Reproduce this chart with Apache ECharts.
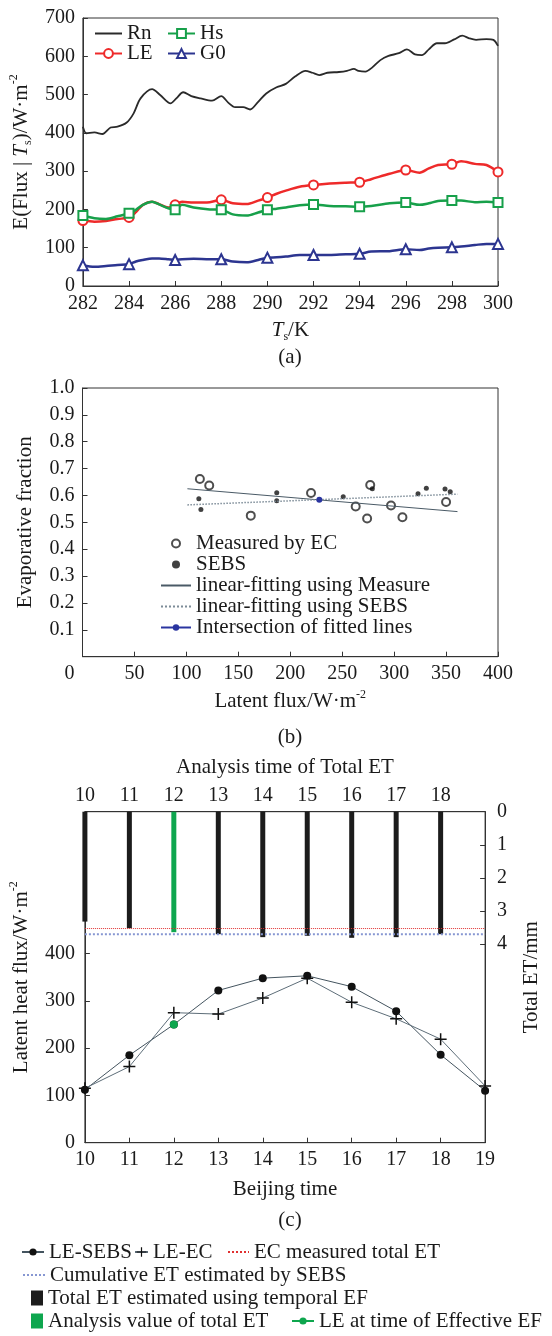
<!DOCTYPE html>
<html>
<head>
<meta charset="utf-8">
<script src="https://cdn.jsdelivr.net/npm/echarts@6/dist/echarts.min.js"></script>
<style>
  html, body { margin: 0; padding: 0; background: #fff; }
  #main { width: 552px; height: 1336px; }
</style>
</head>
<body>
<div id="main"></div>
<script>
// (a) flux vs surface temperature
var rnT = [282, 282.15, 282.5, 282.85, 283.2, 283.5, 283.9, 284.2, 284.5, 285.0, 285.35, 285.8, 286.05, 286.35, 286.7, 287.1, 287.6, 288.0, 288.3, 288.6, 288.95, 289.25, 289.6, 289.95, 290.4, 290.8, 291.2, 291.65, 291.95, 292.25, 292.6, 293.1, 293.45, 293.75, 293.95, 294.25, 294.55, 294.9, 295.25, 295.7, 296.05, 296.4, 296.7, 297.0, 297.35, 297.7, 298.1, 298.45, 298.75, 299.05, 299.5, 299.8, 300];
var rnV = [416, 399, 401, 397, 414, 416, 427, 451, 490, 514, 499, 477, 490, 506, 496, 490, 484, 496, 479, 467, 467, 461, 481, 503, 519, 528, 547, 562, 557, 551, 557, 559, 562, 567, 562, 560, 571, 590, 601, 608, 618, 605, 603, 618, 634, 634, 644, 654, 647, 643, 645, 643, 627];
var fluxT = [282, 282.5, 283, 283.5, 284, 284.3, 284.6, 285, 285.3, 285.7, 286, 286.3, 286.8, 287.5, 288, 288.5, 289.1, 289.6, 290, 290.4, 290.8, 291.4, 292, 292.7, 293.4, 294, 294.5, 295.3, 296, 296.6, 297, 297.4, 298, 298.4, 299, 299.5, 300];
var leV = [171, 168, 170, 175, 179, 193, 212, 220, 214, 205, 212, 220, 218, 219, 225, 216, 214, 223, 231, 241, 249, 259, 264, 268, 270, 271, 279, 293, 303, 296, 307, 316, 318, 326, 319, 316, 298];
var hsV = [184, 177, 175, 182, 190, 199, 212, 220, 213, 203, 199, 212, 205, 200, 199, 187, 184, 192, 199, 202, 205, 211, 213, 209, 208, 207, 209, 216, 218, 212, 216, 222, 223, 223, 219, 220, 218];
var g0V = [54, 50, 52, 55, 57, 64, 68, 72, 72, 70, 68, 70, 71, 70, 70, 64, 62, 68, 74, 75, 77, 81, 81, 81, 83, 84, 90, 91, 96, 94, 98, 100, 101, 103, 107, 110, 110];

// (b) evaporative fraction vs latent flux
var ecX = [113, 122, 162, 220, 263, 274, 277, 297, 308, 350];
var ecY = [0.661, 0.637, 0.525, 0.609, 0.559, 0.514, 0.639, 0.563, 0.519, 0.576];
var sebsX = [112, 114, 187, 187, 251, 279, 323, 331, 349, 354];
var sebsY = [0.588, 0.548, 0.610, 0.580, 0.595, 0.625, 0.606, 0.627, 0.624, 0.614];
var fitX = [101, 361];
var fitMeasY = [0.625, 0.540];
var fitSebsY = [0.565, 0.605];
var crossX = [228];
var crossY = [0.584];

// (c) diurnal latent heat and total ET
var hours = [10, 11, 12, 13, 14, 15, 16, 17, 18, 19];
var leSebs = [112, 185, 250, 322, 348, 353, 330, 278, 186, 110];
var leEc = [115, 161, 275, 272, 306, 348, 297, 262, 219, 120];
var etHours = [10, 11, 13, 14, 15, 16, 17, 18];
var etTotal = [3.32, 3.52, 3.70, 3.79, 3.75, 3.81, 3.79, 3.70];
var anaHour = [12];
var anaTotal = [3.64];
var lineHours = [10, 19];
var ecTotal = [3.53, 3.53];
var sebsTotal = [3.70, 3.70];
var effHour = [12];
var effLE = [250];
var topTicks = [10, 11, 12, 13, 14, 15, 16, 17, 18];
var leftTicks = [0, 100, 200, 300, 400];
var rightTicks = [0, 1, 2, 3, 4];

var FONT = 'Liberation Serif';
var INK = '#1a1a1a';
var AXIS = '#333';

function zip(xs, ys) {
    return xs.map(function (x, i) { return [x, ys[i]]; });
}
// markers only on the even kelvin values
function marked(xs, ys) {
    return xs.map(function (x, i) {
        var item = { value: [x, ys[i]] };
        if (x % 2 !== 0) item.symbol = 'none';
        return item;
    });
}

var titleRich = {
    i: { fontFamily: FONT, fontSize: 21, fontStyle: 'italic', color: INK },
    sub: { fontFamily: FONT, fontSize: 12, color: INK, verticalAlign: 'bottom' },
    sup: { fontFamily: FONT, fontSize: 12, color: INK, verticalAlign: 'top' }
};
function nameStyle() {
    return { fontFamily: FONT, fontSize: 21, color: INK, lineHeight: 26, rich: titleRich };
}
function labelStyle(margin) {
    return { fontFamily: FONT, fontSize: 20, color: INK, margin: margin };
}
var axLine = { show: true, lineStyle: { color: AXIS, width: 1 } };
var tickIn = { show: true, inside: true, length: 5, lineStyle: { color: AXIS } };

function lg(name, left, top, w, h, icon) {
    var d = { name: name };
    if (icon) d.icon = icon;
    return {
        data: [d], left: left, top: top, itemWidth: w, itemHeight: h,
        padding: 0, selectedMode: false,
        textStyle: { fontFamily: FONT, fontSize: 21, color: INK, lineHeight: 21 }
    };
}

var myChart = echarts.init(document.getElementById('main'));
var option = {
    animation: false,
    backgroundColor: '#fff',
    grid: [
        { left: 82.5, top: 18, width: 415.5, height: 268, show: true, borderColor: AXIS, borderWidth: 1 },
        { left: 82.5, top: 388, width: 415.5, height: 268.7, show: true, borderColor: AXIS, borderWidth: 1 },
        { left: 82, top: 811.7, width: 416, height: 331, show: true, borderColor: AXIS, borderWidth: 1 }
    ],
    xAxis: [
        {
            gridIndex: 0, type: 'value', min: 282, max: 300, interval: 2,
            name: '{i|T}{sub|s}/K', nameLocation: 'middle', nameGap: 31, nameTextStyle: nameStyle(),
            axisLine: axLine, axisTick: tickIn, splitLine: { show: false },
            axisLabel: labelStyle(8)
        },
        {
            gridIndex: 1, type: 'value', min: 0, max: 400, interval: 50,
            name: 'Latent flux/W·m{sup|-2}', nameLocation: 'middle', nameGap: 32, nameTextStyle: nameStyle(),
            axisLine: axLine, axisTick: tickIn, splitLine: { show: false },
            axisLabel: Object.assign(labelStyle(7), {
                formatter: function (v) { return v === 0 ? '{z|0}' : String(v); },
                rich: { z: { fontFamily: FONT, fontSize: 20, color: INK, padding: [0, 26, 0, 0] } }
            })
        },
        {
            gridIndex: 2, type: 'value', min: 10, max: 19, interval: 1,
            name: 'Beijing time', nameLocation: 'middle', nameGap: 34, nameTextStyle: nameStyle(),
            axisLine: axLine, axisTick: tickIn, splitLine: { show: false },
            axisLabel: labelStyle(7)
        },
        {
            gridIndex: 2, type: 'value', min: 10, max: 19, interval: 1, position: 'top',
            name: 'Analysis time of Total ET', nameLocation: 'middle', nameGap: 31, nameTextStyle: nameStyle(),
            axisLine: axLine, axisTick: { show: false }, splitLine: { show: false },
            axisLabel: Object.assign(labelStyle(6), { customValues: topTicks })
        }
    ],
    yAxis: [
        {
            gridIndex: 0, type: 'value', min: 0, max: 700, interval: 100,
            name: 'E(Flux | {i|T}{sub|s})/W·m{sup|-2}', nameLocation: 'middle', nameGap: 43, nameTextStyle: nameStyle(),
            axisLine: axLine, axisTick: tickIn, splitLine: { show: false },
            axisLabel: labelStyle(8)
        },
        {
            gridIndex: 1, type: 'value', min: 0, max: 1, interval: 0.1,
            name: 'Evaporative fraction', nameLocation: 'middle', nameGap: 44, nameTextStyle: nameStyle(),
            axisLine: axLine, axisTick: tickIn, splitLine: { show: false },
            axisLabel: Object.assign(labelStyle(8), {
                showMinLabel: false,
                formatter: function (v) { return v.toFixed(1); }
            })
        },
        {
            gridIndex: 2, type: 'value', min: 0, max: 700, interval: 100,
            name: 'Latent heat flux/W·m{sup|-2}', nameLocation: 'middle', nameGap: 44, nameTextStyle: nameStyle(),
            axisLine: axLine, axisTick: Object.assign({}, tickIn, { customValues: leftTicks }),
            splitLine: { show: false },
            axisLabel: Object.assign(labelStyle(10), { customValues: leftTicks })
        },
        {
            gridIndex: 2, type: 'value', min: 0, max: 10, interval: 1, inverse: true, position: 'right',
            name: 'Total ET/mm', nameLocation: 'middle', nameGap: 29, nameTextStyle: nameStyle(),
            axisLine: axLine, axisTick: Object.assign({}, tickIn, { customValues: rightTicks }),
            splitLine: { show: false },
            axisLabel: Object.assign(labelStyle(12), { customValues: rightTicks })
        }
    ],
    legend: [
        // (a)
        lg('Rn', 94, 23, 27, 11),
        lg('Hs', 167, 23, 27, 11),
        lg('LE', 94, 43, 27, 11),
        lg('G0', 167, 43, 27, 11),
        // (b)
        {
            data: ['Measured by EC', 'SEBS', 'linear-fitting using Measure', 'linear-fitting using SEBS', 'Intersection of fitted lines'],
            orient: 'vertical', left: 160, top: 533, itemWidth: 30, itemHeight: 8, itemGap: 0,
            padding: 0, selectedMode: false,
            textStyle: { fontFamily: FONT, fontSize: 21, color: INK, lineHeight: 21 }
        },
        // (c)
        lg('LE-SEBS', 21, 1241.5, 22, 9),
        lg('LE-EC', 134, 1241.5, 13, 12),
        lg('EC measured total ET', 227, 1241.5, 21, 8),
        lg('Cumulative ET estimated by SEBS', 22, 1264.5, 22, 8),
        lg('Total ET estimated using temporal EF', 31, 1287.5, 12, 15, 'rect'),
        lg('Analysis value of total ET', 31, 1310.5, 12, 15, 'rect'),
        lg('LE at time of Effective EF', 291, 1310.5, 22, 9)
    ],
    graphic: [
        { type: 'text', x: 290, y: 357, style: { text: '(a)', font: '21px "Liberation Serif"', fill: INK, align: 'center', verticalAlign: 'middle' } },
        { type: 'text', x: 290, y: 737, style: { text: '(b)', font: '21px "Liberation Serif"', fill: INK, align: 'center', verticalAlign: 'middle' } },
        { type: 'text', x: 290, y: 1220, style: { text: '(c)', font: '21px "Liberation Serif"', fill: INK, align: 'center', verticalAlign: 'middle' } }
    ],
    series: [
        // ---- (a)
        {
            name: 'Rn', type: 'line', xAxisIndex: 0, yAxisIndex: 0, smooth: 0.3, symbol: 'none',
            itemStyle: { color: 'rgba(0,0,0,0)' },
            lineStyle: { color: '#2a2a2a', width: 1.8 },
            data: zip(rnT, rnV)
        },
        {
            name: 'LE', type: 'line', xAxisIndex: 0, yAxisIndex: 0, smooth: 0.3,
            symbol: 'emptyCircle', symbolSize: 9, showAllSymbol: true,
            itemStyle: { color: '#ee2a2a', borderWidth: 1.5 },
            lineStyle: { color: '#ee2a2a', width: 2.5 },
            data: marked(fluxT, leV)
        },
        {
            name: 'Hs', type: 'line', xAxisIndex: 0, yAxisIndex: 0, smooth: 0.3,
            symbol: 'emptyRect', symbolSize: 9, showAllSymbol: true,
            itemStyle: { color: '#17a04a', borderWidth: 1.5 },
            lineStyle: { color: '#17a04a', width: 2.5 },
            data: marked(fluxT, hsV)
        },
        {
            name: 'G0', type: 'line', xAxisIndex: 0, yAxisIndex: 0, smooth: 0.3,
            symbol: 'emptyTriangle', symbolSize: 10, showAllSymbol: true,
            itemStyle: { color: '#2c3590', borderWidth: 1.5 },
            lineStyle: { color: '#2c3590', width: 2.5 },
            data: marked(fluxT, g0V)
        },
        // ---- (b)
        {
            name: 'Measured by EC', type: 'scatter', xAxisIndex: 1, yAxisIndex: 1,
            symbol: 'emptyCircle', symbolSize: 8,
            itemStyle: { color: '#222', borderWidth: 1.5 },
            data: zip(ecX, ecY)
        },
        {
            name: 'SEBS', type: 'scatter', xAxisIndex: 1, yAxisIndex: 1,
            symbol: 'circle', symbolSize: 5,
            itemStyle: { color: '#111' },
            data: zip(sebsX, sebsY)
        },
        {
            name: 'linear-fitting using Measure', type: 'line', xAxisIndex: 1, yAxisIndex: 1, symbol: 'none',
            itemStyle: { color: 'rgba(0,0,0,0)' },
            lineStyle: { color: '#4a5a66', width: 1 },
            data: zip(fitX, fitMeasY)
        },
        {
            name: 'linear-fitting using SEBS', type: 'line', xAxisIndex: 1, yAxisIndex: 1, symbol: 'none',
            itemStyle: { color: 'rgba(0,0,0,0)' },
            lineStyle: { color: '#7d8c98', width: 1.5, type: 'dotted' },
            data: zip(fitX, fitSebsY)
        },
        {
            name: 'Intersection of fitted lines', type: 'line', xAxisIndex: 1, yAxisIndex: 1,
            symbol: 'circle', symbolSize: 6,
            itemStyle: { color: '#2a35a0' },
            lineStyle: { color: '#2a35a0', width: 1.5 },
            data: zip(crossX, crossY)
        },
        // ---- (c)
        {
            name: 'Total ET estimated using temporal EF', type: 'bar', xAxisIndex: 3, yAxisIndex: 3,
            barWidth: 5, barGap: '-100%',
            itemStyle: { color: '#1c1c1c' },
            data: zip(etHours, etTotal)
        },
        {
            name: 'Analysis value of total ET', type: 'bar', xAxisIndex: 3, yAxisIndex: 3,
            barWidth: 5, barGap: '-100%',
            itemStyle: { color: '#0ea64e' },
            data: zip(anaHour, anaTotal)
        },
        {
            name: 'EC measured total ET', type: 'line', xAxisIndex: 3, yAxisIndex: 3, symbol: 'none',
            itemStyle: { color: 'rgba(0,0,0,0)' },
            lineStyle: { color: '#e03030', width: 1, type: 'dotted' },
            data: zip(lineHours, ecTotal)
        },
        {
            name: 'Cumulative ET estimated by SEBS', type: 'line', xAxisIndex: 3, yAxisIndex: 3, symbol: 'none',
            itemStyle: { color: 'rgba(0,0,0,0)' },
            lineStyle: { color: '#8797d2', width: 2, type: 'dotted' },
            data: zip(lineHours, sebsTotal)
        },
        {
            name: 'LE-SEBS', type: 'line', xAxisIndex: 2, yAxisIndex: 2,
            symbol: 'circle', symbolSize: 8,
            itemStyle: { color: '#111' },
            lineStyle: { color: '#44545f', width: 1 },
            data: zip(hours, leSebs)
        },
        {
            name: 'LE-EC', type: 'line', xAxisIndex: 2, yAxisIndex: 2,
            symbol: 'path://M0,5.25H12V6.75H0Z M5.25,0H6.75V12H5.25Z', symbolSize: 12,
            itemStyle: { color: '#111' },
            lineStyle: { color: '#5d6d78', width: 1 },
            data: zip(hours, leEc)
        },
        {
            name: 'LE at time of Effective EF', type: 'line', xAxisIndex: 2, yAxisIndex: 2,
            symbol: 'circle', symbolSize: 8, z: 5,
            itemStyle: { color: '#0ea64e' },
            lineStyle: { color: '#0ea64e', width: 1.5 },
            data: zip(effHour, effLE)
        }
    ]
};
myChart.setOption(option);
</script>
</body>
</html>
